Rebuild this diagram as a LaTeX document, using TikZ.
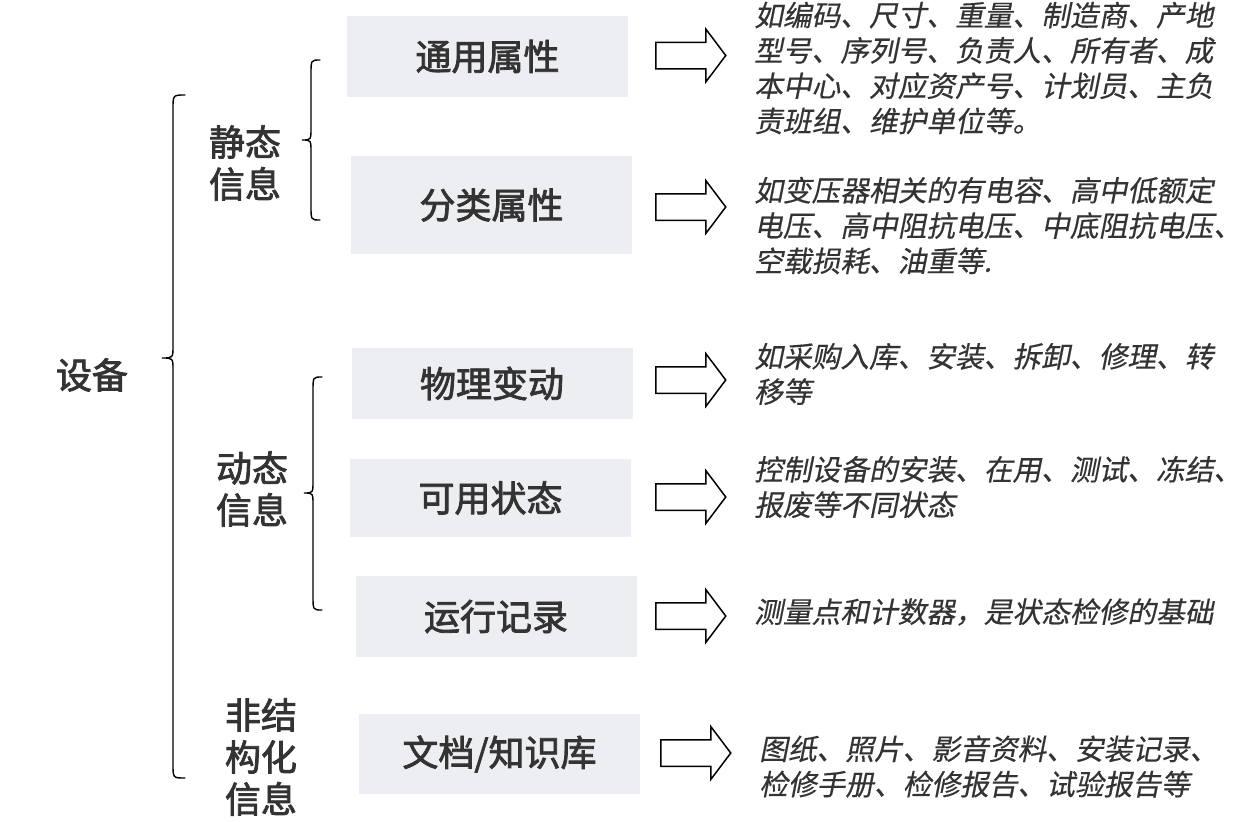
\documentclass[tikz,border=0pt]{standalone}
\usepackage{fontspec}
\setmainfont{Noto Sans CJK SC}
\newfontfamily\cjkheavy[FakeBold=2.2]{Noto Sans CJK SC}
\newfontfamily\cjkslant[FakeSlant=0.2,FakeBold=0.4]{Noto Sans CJK SC}
\usetikzlibrary{shapes.arrows}

\definecolor{boxgray}{RGB}{237,238,242}
\definecolor{txtgray}{RGB}{51,51,51}

\tikzset{
  attrbox/.style={fill=boxgray, minimum width=281pt, inner sep=0pt, text=txtgray,
    font=\cjkheavy\fontsize{36}{40}\selectfont},
  grouplabel/.style={align=center, inner sep=0pt, text=txtgray,
    font=\cjkheavy\fontsize{36}{42}\selectfont},
  note/.style={anchor=west, align=left, inner sep=0pt, text=txtgray,
    font=\cjkslant\fontsize{28.7}{35.3}\selectfont},
  hollowarrow/.style={single arrow, draw=black, line width=1.5pt, fill=white,
    minimum height=70pt, inner sep=12.5pt, single arrow head extend=13pt,
    single arrow tip angle=106, anchor=tail},
  bracestyle/.style={line width=1.4pt, line cap=round},
}

% #1 end x, #2 spine x, #3 tip x, #4 top y, #5 tip y, #6 bottom y
\newcommand{\curlybrace}[6]{%
  \draw[bracestyle] (#1,#4) .. controls (#2,#4) .. (#2,{#4+14})
    -- (#2,{#5-12}) .. controls (#2,#5) .. (#3,#5)
    .. controls (#2,#5) .. (#2,{#5+12})
    -- (#2,{#6-14}) .. controls (#2,#6) .. (#1,#6);}

\begin{document}
\begin{tikzpicture}[x=1pt,y=-1pt]
\useasboundingbox (0,0) rectangle (1248,822);

% left labels
\node[grouplabel] (dev) at (92,375) {设备};
\node[grouplabel] (static) at (245,163) {静态\\信息};
\node[grouplabel] (dynamic) at (252,489) {动态\\信息};
\node[grouplabel] (unstruct) at (261,757) {非结\\构化\\信息};

% braces
\curlybrace{185}{173}{162}{95}{358}{778}
\curlybrace{320}{311}{302}{60}{140}{220}
\curlybrace{322}{313}{304}{377}{493}{610}

% attribute boxes
\node[attrbox, minimum height=81pt] (general) at (487.5,56.5) {通用属性};
\node[attrbox, minimum height=98pt] (class) at (491.5,205) {分类属性};
\node[attrbox, minimum height=71pt] (phys) at (492,383.5) {物理变动};
\node[attrbox, minimum height=78pt] (avail) at (490.5,498) {可用状态};
\node[attrbox, minimum height=81pt] (oper) at (496,616.5) {运行记录};
\node[attrbox, minimum height=80pt] (docs) at (499.5,754) {文档/知识库};

% arrows
\node[hollowarrow] (a1) at (655,55.5) {};
\node[hollowarrow] (a2) at (655,207) {};
\node[hollowarrow] (a3) at (655,380) {};
\node[hollowarrow] (a4) at (655,497) {};
\node[hollowarrow] (a5) at (655,616) {};
\node[hollowarrow] (a6) at (660,753) {};

% notes
\node[note] (n1) at (754,68) {如编码、尺寸、重量、制造商、产地\\型号、序列号、负责人、所有者、成\\本中心、对应资产号、计划员、主负\\责班组、维护单位等。};
\node[note] (n2) at (754,225.5) {如变压器相关的有电容、高中低额定\\电压、高中阻抗电压、中底阻抗电压、\\空载损耗、油重等.};
\node[note] (n3) at (754,374) {如采购入库、安装、拆卸、修理、转\\移等};
\node[note] (n4) at (754,487) {控制设备的安装、在用、测试、冻结、\\报废等不同状态};
\node[note] (n5) at (754,612) {测量点和计数器，是状态检修的基础};
\node[note] (n6) at (759,766.5) {图纸、照片、影音资料、安装记录、\\检修手册、检修报告、试验报告等};

\end{tikzpicture}
\end{document}
